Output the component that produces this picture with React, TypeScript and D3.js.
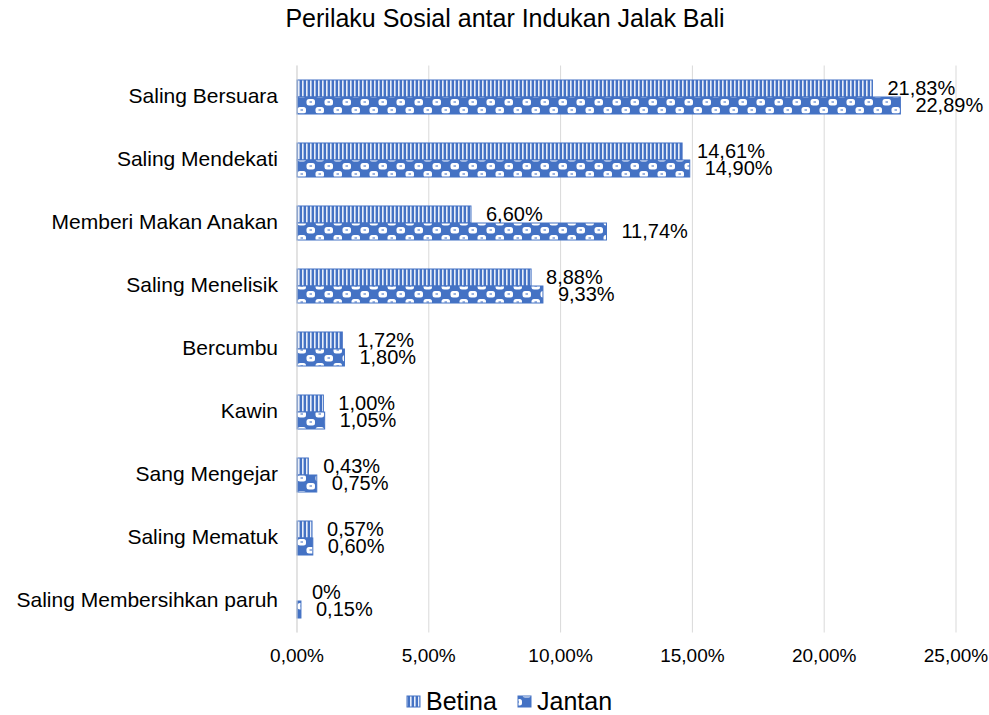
import React, { useEffect, useRef } from "react";
import * as d3 from "d3";

const categories = [
  "Saling Bersuara",
  "Saling Mendekati",
  "Memberi Makan Anakan",
  "Saling Menelisik",
  "Bercumbu",
  "Kawin",
  "Sang Mengejar",
  "Saling Mematuk",
  "Saling Membersihkan paruh",
];
const betina = [21.83, 14.61, 6.6, 8.88, 1.72, 1.0, 0.43, 0.57, 0];
const jantan = [22.89, 14.9, 11.74, 9.33, 1.8, 1.05, 0.75, 0.6, 0.15];
const betinaLabels = ["21,83%", "14,61%", "6,60%", "8,88%", "1,72%", "1,00%", "0,43%", "0,57%", "0%"];
const jantanLabels = ["22,89%", "14,90%", "11,74%", "9,33%", "1,80%", "1,05%", "0,75%", "0,60%", "0,15%"];
const xTicks = [0, 5, 10, 15, 20, 25];
const seriesNames = ["Betina", "Jantan"];

const W = 989;
const H = 715;
const BLUE = "#4472C4";
const FONT = "'Liberation Sans', Arial, sans-serif";

export default function App() {
  const ref = useRef<SVGSVGElement>(null);

  useEffect(() => {
    const svg = d3.select(ref.current);
    svg.selectAll("*").remove();

    const defs = svg.append("defs");
    // vertical stripes for Betina
    const p1 = defs
      .append("pattern")
      .attr("id", "pBetina")
      .attr("patternUnits", "userSpaceOnUse")
      .attr("width", 4)
      .attr("height", 4);
    p1.append("rect").attr("width", 4).attr("height", 4).attr("fill", BLUE);
    p1.append("rect").attr("x", 2).attr("width", 1.6).attr("height", 4).attr("fill", "#e8eef9");

    // sphere-like checker for Jantan
    const p2 = defs
      .append("pattern")
      .attr("id", "pJantan")
      .attr("patternUnits", "userSpaceOnUse")
      .attr("width", 18)
      .attr("height", 16)
      .attr("y", 98);
    p2.append("rect").attr("width", 18).attr("height", 16).attr("fill", BLUE);
    p2.append("rect").attr("x", 0.5).attr("y", 1).attr("width", 8.5).attr("height", 6.5).attr("rx", 2.5).attr("fill", "#fff");
    p2.append("rect").attr("x", 9.5).attr("y", 9).attr("width", 8.5).attr("height", 6.5).attr("rx", 2.5).attr("fill", "#fff");
    p2.append("rect").attr("x", 3.5).attr("y", 3).attr("width", 2.5).attr("height", 2).attr("fill", "#9bb3e0");
    p2.append("rect").attr("x", 12.5).attr("y", 11).attr("width", 2.5).attr("height", 2).attr("fill", "#9bb3e0");

    const x = d3.scaleLinear().domain([0, 25]).range([297, 956]);
    const y = d3
      .scaleBand<string>()
      .domain(categories)
      .range([65.5, 632.5])
      .paddingInner(0.46)
      .paddingOuter(0.23);
    const sub = d3
      .scaleBand<string>()
      .domain(seriesNames)
      .range([0, y.bandwidth()]);

    // gridlines
    svg
      .append("g")
      .selectAll("line")
      .data(xTicks)
      .join("line")
      .attr("x1", (d) => x(d))
      .attr("x2", (d) => x(d))
      .attr("y1", 65.5)
      .attr("y2", 632.5)
      .attr("stroke", "#d9d9d9")
      .attr("stroke-width", 1);

    const series = [
      { name: "Betina", values: betina, labels: betinaLabels, fill: "url(#pBetina)" },
      { name: "Jantan", values: jantan, labels: jantanLabels, fill: "url(#pJantan)" },
    ];

    series.forEach((s) => {
      const g = svg.append("g");
      g.selectAll("rect")
        .data(s.values)
        .join("rect")
        .attr("x", x(0))
        .attr("y", (d, i) => (y(categories[i]) as number) + (sub(s.name) as number))
        .attr("width", (d) => x(d) - x(0))
        .attr("height", sub.bandwidth())
        .attr("fill", s.fill)
        .attr("stroke", BLUE)
        .attr("stroke-width", (d) => (d > 0 ? 1 : 0));
      g.selectAll("text")
        .data(s.values)
        .join("text")
        .attr("x", (d) => x(d) + 15)
        .attr("y", (d, i) => (y(categories[i]) as number) + (sub(s.name) as number) + sub.bandwidth() / 2 + 1)
        .attr("dominant-baseline", "middle")
        .attr("font-family", FONT)
        .attr("font-size", 20)
        .attr("fill", "#000")
        .text((d, i) => s.labels[i]);
    });

    // category axis line
    svg
      .append("line")
      .attr("x1", x(0))
      .attr("x2", x(0))
      .attr("y1", 65.5)
      .attr("y2", 632.5)
      .attr("stroke", "#d9d9d9");

    // category labels
    svg
      .append("g")
      .selectAll("text")
      .data(categories)
      .join("text")
      .attr("x", 278)
      .attr("y", (d) => (y(d) as number) + y.bandwidth() / 2)
      .attr("text-anchor", "end")
      .attr("dominant-baseline", "middle")
      .attr("font-family", FONT)
      .attr("font-size", 21)
      .attr("fill", "#000")
      .text((d) => d);

    // x tick labels
    svg
      .append("g")
      .selectAll("text")
      .data(xTicks)
      .join("text")
      .attr("x", (d) => x(d))
      .attr("y", 657)
      .attr("text-anchor", "middle")
      .attr("dominant-baseline", "middle")
      .attr("font-family", FONT)
      .attr("font-size", 19)
      .attr("fill", "#000")
      .text((d) => d3.format(".2f")(d).replace(".", ",") + "%");

    // title
    svg
      .append("text")
      .attr("x", 505)
      .attr("y", 20)
      .attr("text-anchor", "middle")
      .attr("dominant-baseline", "middle")
      .attr("font-family", FONT)
      .attr("font-size", 25)
      .attr("fill", "#000")
      .text("Perilaku Sosial antar Indukan Jalak Bali");

    // legend
    const legend = [
      { name: "Betina", fill: "url(#pBetina)", x: 407 },
      { name: "Jantan", fill: "url(#pJantan)", x: 518 },
    ];
    const lg = svg.append("g");
    legend.forEach((l) => {
      lg.append("rect")
        .attr("x", l.x)
        .attr("y", 696)
        .attr("width", 13)
        .attr("height", 11)
        .attr("fill", l.fill)
        .attr("stroke", BLUE);
      lg.append("text")
        .attr("x", l.x + 19)
        .attr("y", 703)
        .attr("dominant-baseline", "middle")
        .attr("font-family", FONT)
        .attr("font-size", 25)
        .attr("fill", "#000")
        .text(l.name);
    });
  }, []);

  return (
    <svg
      ref={ref}
      width={W}
      height={H}
      style={{ position: "absolute", left: 0, top: 0, background: "#fff" }}
    />
  );
}
